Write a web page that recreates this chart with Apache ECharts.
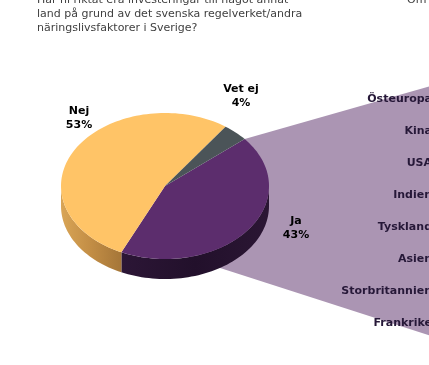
<!DOCTYPE html>
<html><head><meta charset="utf-8">
<script src="https://cdn.jsdelivr.net/npm/echarts@6/dist/echarts.min.js"></script>
<style>html,body{margin:0;padding:0;overflow:hidden;background:#fff}#c{width:429px;height:365px}</style>
</head><body><div id="c"></div>
<script>
// ---- data ----
const pieNames = ['Ja', 'Nej', 'Vet ej'];
const pieValues = [43, 53, 4];
const barCategories = ['Östeuropa', 'Kina', 'USA', 'Indien', 'Tyskland', 'Asien', 'Storbritannien', 'Frankrike'];
const titleLines = ['Har ni riktat era investeringar till något annat', 'land på grund av det svenska regelverket/andra', 'näringslivsfaktorer i Sverige?'];
const sideTitle = 'Om';

// ---- layout / style ----
const PIE = { cx: 165, cy: 186, rx: 104, ry: 73, depth: 20, startDeg: 40 };
const GRID = { left: 441, top: 83, width: 40, height: 256 };
const TOP_COLORS = { 'Ja': '#5c2d6d', 'Nej': '#ffc467', 'Vet ej': '#4b5458' };
const SIDE_STOPS = {
  'Ja': ['#2c1636', '#22102b', '#2b1634'],
  'Nej': ['#d9a556', '#c28d45', '#a57638'],
  'Vet ej': ['#333a3d', '#2a3033', '#333a3d']
};
const LABEL_OFFSET = { 'Nej': [-86, -68], 'Vet ej': [76, -90], 'Ja': [131, 42] };
const FONT = 'DejaVu Sans';

const total = pieValues.reduce((a, b) => a + b, 0);
const angles = [];
let acc = PIE.startDeg;
pieValues.forEach(v => { const a0 = acc; acc -= v / total * 360; angles.push([a0, acc]); });

function pt(tDeg, dy) {
  const t = tDeg * Math.PI / 180;
  return [PIE.cx + PIE.rx * Math.cos(t), PIE.cy - PIE.ry * Math.sin(t) + (dy || 0)];
}
function arc(a0, a1, dy) {
  const pts = [];
  const n = Math.max(2, Math.ceil(Math.abs(a0 - a1) / 2));
  for (let i = 0; i <= n; i++) pts.push(pt(a0 + (a1 - a0) * i / n, dy));
  return pts;
}

function renderItem(params, api) {
  const i = params.dataIndex;
  const name = pieNames[i];
  const [a0, a1] = angles[i]; // a0 > a1 (clockwise)
  const children = [];
  // sides (front half: sin < 0)
  for (let k = -2; k <= 1; k++) {
    const lo = k * 360 - 180, hi = k * 360;
    const s = Math.min(a0, hi), e = Math.max(a1, lo);
    if (s > e) {
      const upper = arc(s, e, 0);
      const lower = arc(e, s, PIE.depth);
      const st = SIDE_STOPS[name];
      children.push({
        type: 'polygon', shape: { points: upper.concat(lower) },
        style: { fill: new echarts.graphic.LinearGradient(0, 0, 1, 0, [
          { offset: 0, color: st[0] }, { offset: 0.5, color: st[1] }, { offset: 1, color: st[2] }]) }
      });
    }
  }
  // top face
  const v = api.value(0);
  children.push({
    type: 'polygon',
    shape: { points: [[PIE.cx, PIE.cy]].concat(arc(a0, a1, 0)) },
    style: { fill: TOP_COLORS[name] }
  });
  const off = LABEL_OFFSET[name];
  children.push({
    type: 'text', z2: 10,
    style: {
      text: name + '\n' + Math.round(v / total * 100) + '%',
      x: PIE.cx + off[0], y: PIE.cy + off[1],
      align: 'center', verticalAlign: 'middle',
      font: 'bold 11px "' + FONT + '"', lineHeight: 14, fill: '#000'
    }
  });
  return { type: 'group', children };
}

const topPt = pt(angles[0][0], 0);
const bottomAnchor = [PIE.cx, PIE.cy + PIE.ry * 0.88];
const connector = [topPt, [GRID.left, GRID.top], [GRID.left, GRID.top + GRID.height], bottomAnchor];

const chart = echarts.init(document.getElementById('c'), null, { renderer: 'canvas' });
chart.setOption({
  animation: false,
  backgroundColor: '#fff',
  title: [
    { text: titleLines.join('\n'), left: 37, top: -7, padding: 0,
      textStyle: { fontSize: 11, fontWeight: 'normal', color: '#404040', fontFamily: FONT, lineHeight: 14 } },
    { text: sideTitle, left: 407, top: -7, padding: 0,
      textStyle: { fontSize: 11, fontWeight: 'normal', color: '#404040', fontFamily: FONT, lineHeight: 14 } }
  ],
  graphic: { elements: [{ type: 'polygon', z: 0, shape: { points: connector }, style: { fill: '#ab95b3' } }] },
  grid: { left: GRID.left, top: GRID.top, width: GRID.width, height: GRID.height, containLabel: false, outerBoundsMode: 'none' },
  xAxis: { type: 'value', show: false },
  yAxis: {
    type: 'category', data: barCategories, inverse: true,
    axisLine: { show: false }, axisTick: { show: false }, splitLine: { show: false },
    axisLabel: { margin: 9, fontSize: 11, fontWeight: 'bold', color: '#261838', fontFamily: FONT }
  },
  series: [
    { type: 'custom', coordinateSystem: 'none', renderItem: renderItem, z: 5,
      data: pieValues.map((v, i) => ({ name: pieNames[i], value: v })) },
    { type: 'bar', data: [] }
  ]
});
</script></body></html>
